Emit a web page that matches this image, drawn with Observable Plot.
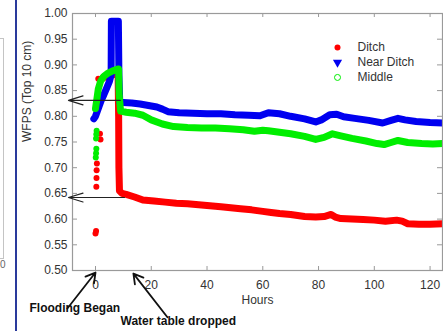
<!DOCTYPE html>
<html><head><meta charset="utf-8">
<script src="https://cdn.jsdelivr.net/npm/d3@7"></script>
<script src="https://cdn.jsdelivr.net/npm/@observablehq/plot@0.6"></script>
<style>
body{margin:0;background:#fff;width:443px;height:331px;overflow:hidden;position:relative;font-family:"Liberation Sans",Arial,sans-serif}
#chart{position:absolute;left:0;top:0}
.deco{position:absolute}
</style></head><body>
<div id="chart"></div>
<div class="deco" style="left:-2px;top:38px;width:5px;height:219px;border:1px solid #c4c4c4;border-left:none"></div>
<div class="deco" style="left:0px;top:259px;font-size:10px;color:#666">0</div>
<div class="deco" style="left:15px;top:0;width:2px;height:331px;background:#2a3a9c"></div>
<script>
// Axis ticks
const xTicks = [0, 20, 40, 60, 80, 100, 120];
const yTicks = [0.50, 0.55, 0.60, 0.65, 0.70, 0.75, 0.80, 0.85, 0.90, 0.95, 1.00];

// Ditch (red)
const ditchScatterHours = [0, 0.2, 0.3, 0.35, 0.4, 0.5, 1.0, 1.6, 1.8];
const ditchScatterWFPS  = [0.572, 0.577, 0.663, 0.68, 0.695, 0.708, 0.873, 0.766, 0.755];
const ditchHours = [2.5, 4, 5.5, 7, 8.1, 8.3, 8.4, 8.6, 9.5, 11, 14, 17, 21, 25, 29, 33, 37, 41, 45, 48.5, 52, 56, 60, 63, 66, 70, 75, 79, 82, 84.5, 86, 88, 92, 96, 100, 104, 108, 110, 112, 116, 120, 124.5];
const ditchWFPS  = [0.874, 0.878, 0.88, 0.882, 0.885, 0.80, 0.70, 0.655, 0.65, 0.648, 0.643, 0.637, 0.635, 0.633, 0.631, 0.63, 0.628, 0.626, 0.624, 0.622, 0.620, 0.618, 0.615, 0.613, 0.611, 0.609, 0.605, 0.604, 0.605, 0.609, 0.604, 0.601, 0.600, 0.599, 0.598, 0.596, 0.598, 0.596, 0.591, 0.590, 0.590, 0.591];

// Near Ditch (blue)
const nearHours = [-0.6, 0, 1, 2, 3, 4, 5, 5.6, 5.7, 7, 8.2, 8.4, 8.7, 10, 13, 16, 19, 22, 24, 26, 30, 35, 40, 45, 50, 55, 59, 62, 66, 70, 75, 79, 81, 84, 86.5, 89, 93, 98, 103, 106, 108.5, 111, 115, 120, 124.5];
const nearWFPS  = [0.795, 0.80, 0.815, 0.83, 0.842, 0.855, 0.868, 0.88, 0.985, 0.985, 0.985, 0.88, 0.827, 0.827, 0.826, 0.824, 0.821, 0.818, 0.814, 0.809, 0.807, 0.806, 0.805, 0.805, 0.803, 0.802, 0.801, 0.807, 0.805, 0.800, 0.795, 0.789, 0.793, 0.803, 0.804, 0.799, 0.796, 0.792, 0.787, 0.792, 0.796, 0.793, 0.790, 0.788, 0.787];

// Middle (green)
const midScatterHours = [0.1, 0.2, 0.3, 0.2, 0.3, 0.4];
const midScatterWFPS  = [0.72, 0.728, 0.737, 0.757, 0.765, 0.772];
const midHours = [0, 0.4, 1, 1.8, 3, 4.5, 6, 7.5, 8.3, 8.5, 9, 11, 14, 17, 20, 24, 28, 33, 38, 43, 48, 53, 57, 60, 62, 66, 70, 75, 79, 82, 85, 88, 92, 97, 101, 103.5, 106, 108.5, 112, 117, 121, 124.5];
const midWFPS  = [0.815, 0.83, 0.853, 0.868, 0.878, 0.884, 0.888, 0.891, 0.892, 0.84, 0.81, 0.808, 0.806, 0.802, 0.793, 0.785, 0.780, 0.778, 0.777, 0.777, 0.776, 0.774, 0.771, 0.773, 0.772, 0.769, 0.766, 0.761, 0.755, 0.759, 0.766, 0.762, 0.757, 0.752, 0.747, 0.745, 0.749, 0.753, 0.749, 0.747, 0.746, 0.747];

// Legend
const legendLabels = ["Ditch", "Near Ditch", "Middle"];

// Annotation arrows [x1, y1, x2, y2] in data units
const arrowHoriz = [[8.9, 0.831, -9.7, 0.831], [10.4, 0.642, -9.7, 0.642]];
const arrowDiag = [[-10.1, 0.426, 0, 0.496], [25.8, 0.409, 13.6, 0.494]];

const zip = (xs, ys) => xs.map((x, i) => ({x, y: ys[i]}));
const ditch = zip(ditchHours, ditchWFPS), ditchS = zip(ditchScatterHours, ditchScatterWFPS);
const near = zip(nearHours, nearWFPS);
const mid = zip(midHours, midWFPS), midS = zip(midScatterHours, midScatterWFPS);

const RED = "#ff0000", BLUE = "#0000f0", GREEN = "#00ee00";
const legX = 86.8, legY0 = 0.934, legStep = 0.0292;
const legend = legendLabels.map((label, i) => ({label, i, x: legX, y: legY0 - i * legStep}));
const arrows = (a) => a.map(([x1, y1, x2, y2]) => ({x1, y1, x2, y2}));

const chart = Plot.plot({
  width: 443, height: 331,
  marginLeft: 72, marginRight: 1, marginTop: 13, marginBottom: 61,
  x: {domain: [-8.25, 124.46]},
  y: {domain: [0.5, 1.0]},
  style: {fontFamily: "Liberation Sans, Arial, sans-serif", fontSize: "12px", color: "#333", background: "transparent", overflow: "visible"},
  marks: [
    Plot.axisX({ticks: xTicks, tickSize: 0, tickPadding: 10, label: null, fontSize: 12}),
    Plot.axisY({ticks: yTicks, tickSize: 0, tickPadding: 5, tickFormat: d3.format(".2f"), label: null, fontSize: 12}),
    Plot.ruleX(xTicks, {x: d => d, insetTop: 253, stroke: "#999"}),
    Plot.ruleX(xTicks, {x: d => d, insetBottom: 253, stroke: "#999"}),
    Plot.ruleY(yTicks, {y: d => d, insetRight: 365, stroke: "#999"}),
    Plot.ruleY(yTicks, {y: d => d, insetLeft: 365, stroke: "#999"}),
    Plot.line(ditch, {x: "x", y: "y", stroke: RED, strokeWidth: 7, strokeLinejoin: "round", strokeLinecap: "round"}),
    Plot.dot(ditchS, {x: "x", y: "y", fill: RED, r: 3}),
    Plot.line(near, {x: "x", y: "y", stroke: BLUE, strokeWidth: 7, strokeLinejoin: "round", strokeLinecap: "round"}),
    Plot.line(mid, {x: "x", y: "y", stroke: GREEN, strokeWidth: 7, strokeLinejoin: "round", strokeLinecap: "round"}),
    Plot.dot(midS, {x: "x", y: "y", fill: GREEN, r: 3}),
    Plot.frame({stroke: "#9a9a9a", strokeWidth: 1.2}),
    Plot.arrow(arrows(arrowHoriz), {x1: "x1", y1: "y1", x2: "x2", y2: "y2", stroke: "#222", strokeWidth: 1.2, headLength: 19, headAngle: 34}),
    Plot.arrow(arrows(arrowDiag), {x1: "x1", y1: "y1", x2: "x2", y2: "y2", stroke: "#111", strokeWidth: 1.8, headLength: 9, headAngle: 60}),
    Plot.dot(legend.filter(d => d.i === 0), {x: "x", y: "y", fill: RED, r: 3}),
    Plot.dot(legend.filter(d => d.i === 1), {x: "x", y: "y", fill: BLUE, symbol: "triangle", rotate: 180, r: 3.4}),
    Plot.dot(legend.filter(d => d.i === 2), {x: "x", y: "y", stroke: GREEN, fill: "none", strokeWidth: 1, r: 3}),
    Plot.text(legend, {x: "x", y: "y", text: "label", dx: 20, textAnchor: "start", fill: "#333", fontSize: 12}),
    Plot.text(["Hours"], {frameAnchor: "bottom", dy: 33, fill: "#333", fontSize: 12}),
    Plot.text(["WFPS (Top 10 cm)"], {frameAnchor: "left", dx: -45, rotate: -90, fill: "#333", fontSize: 12}),
    Plot.text(["Flooding Began"], {frameAnchor: "bottom-left", dx: -43, dy: 41, textAnchor: "start", fontWeight: "bold", fill: "#111", fontSize: 12}),
    Plot.text(["Water table dropped"], {frameAnchor: "bottom-left", dx: 48, dy: 54, textAnchor: "start", fontWeight: "bold", fill: "#111", fontSize: 12})
  ]
});
document.getElementById("chart").appendChild(chart);
</script>
</body></html>
